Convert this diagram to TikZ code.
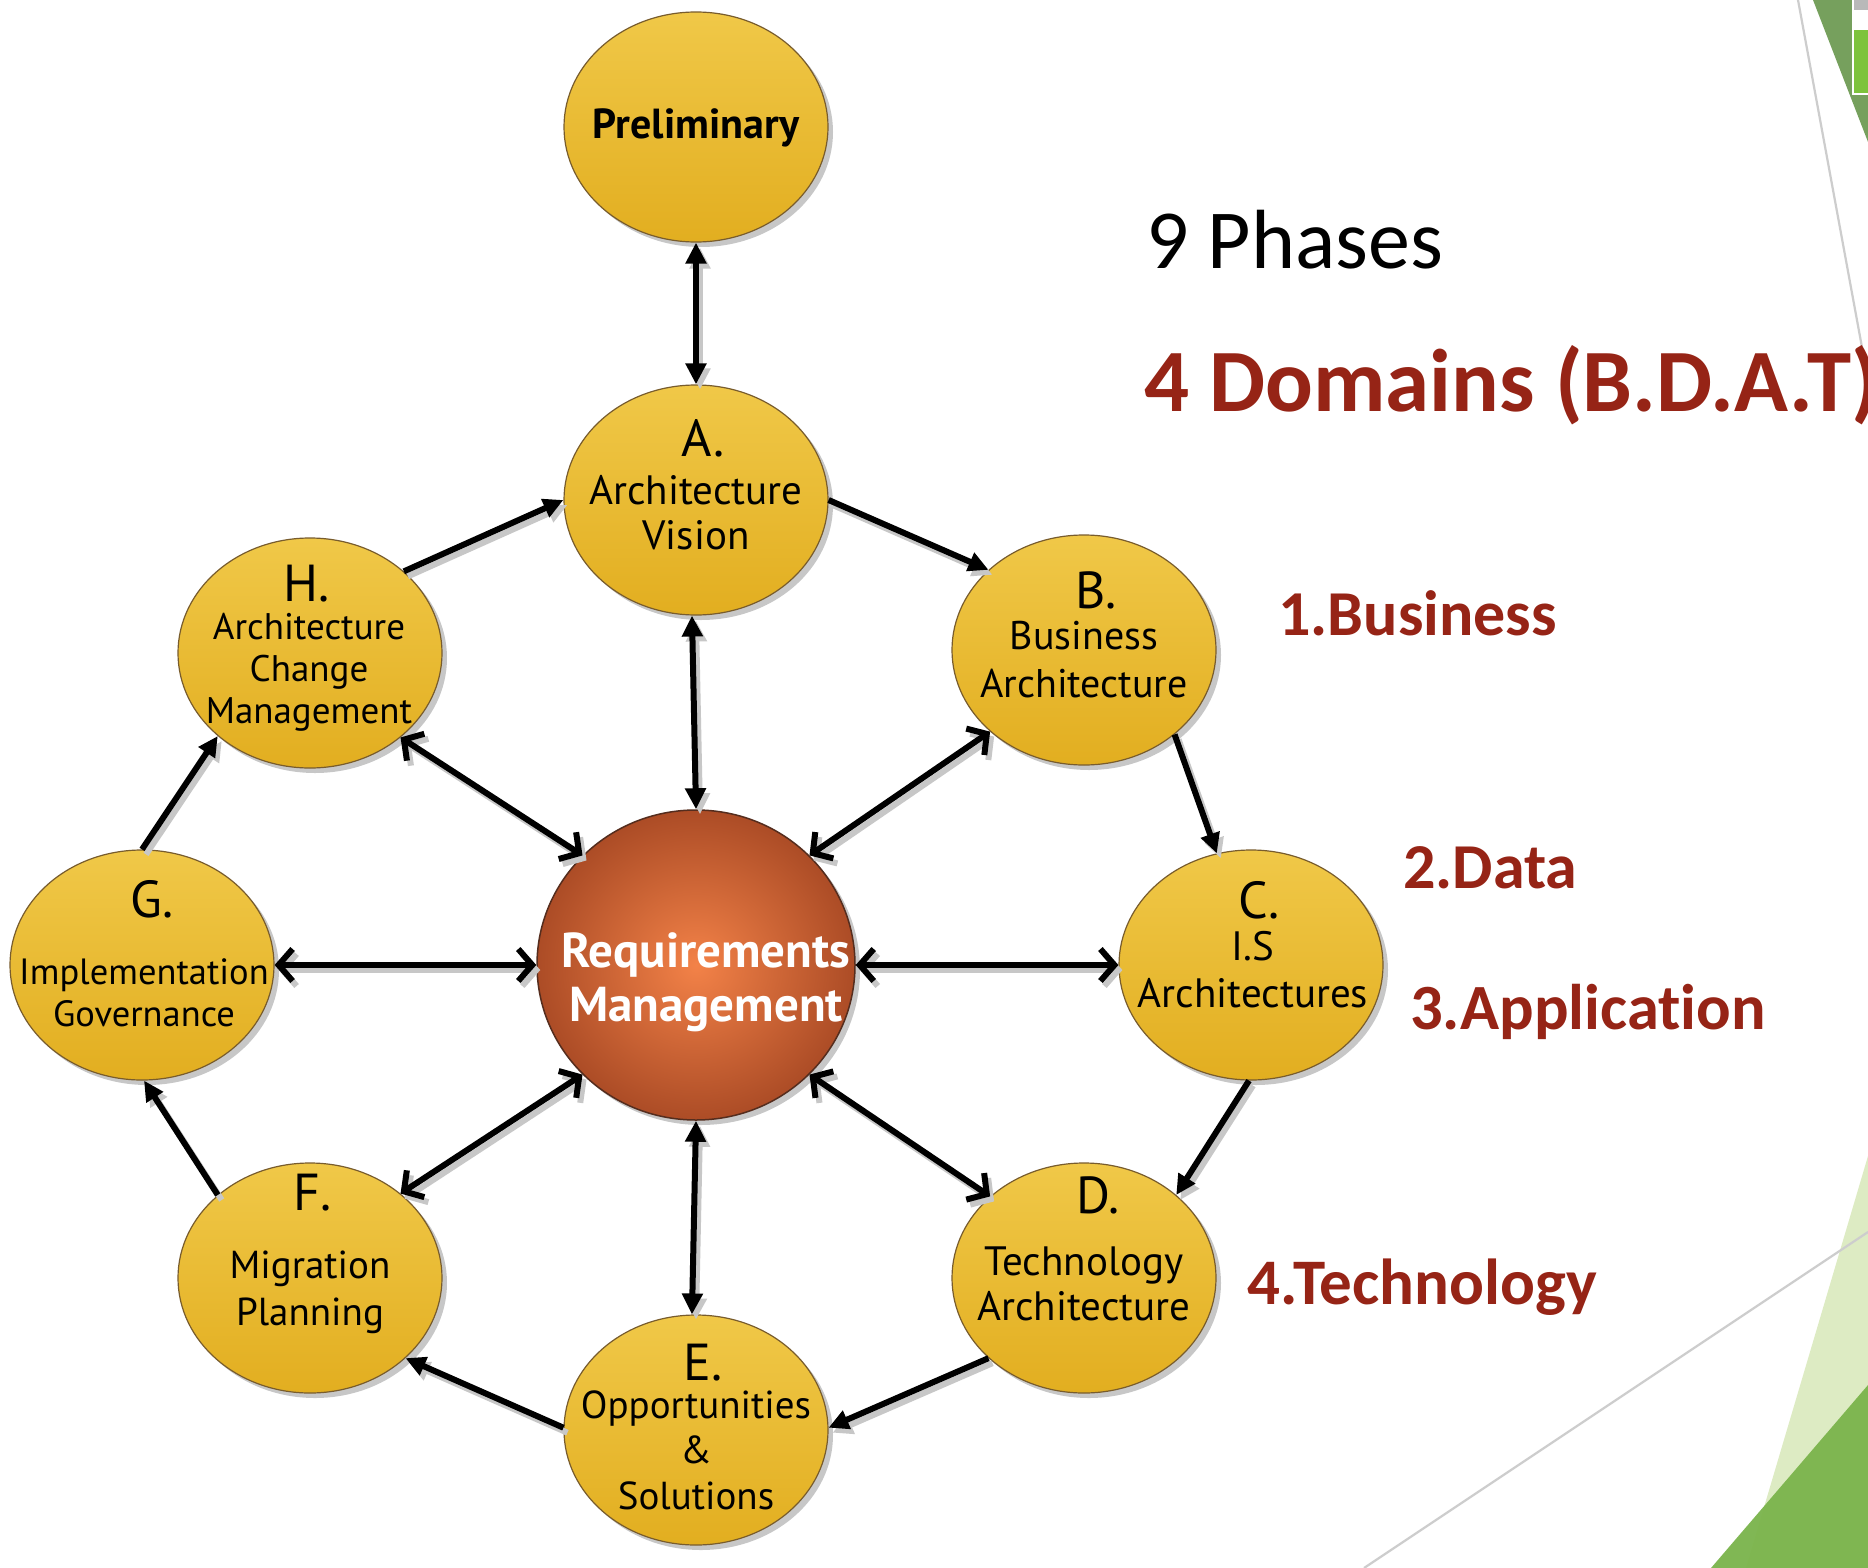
\documentclass[tikz,border=0pt]{standalone}
\usepackage{fontspec}
\setmainfont{PT Sans}
\newfontfamily\carl[Ligatures=CommonOff]{Carlito}
\usetikzlibrary{shapes.geometric,arrows.meta,shadows}
\definecolor{ylTop}{RGB}{240,200,72}
\definecolor{ylBot}{RGB}{226,174,32}
\definecolor{ylLine}{RGB}{120,92,45}
\definecolor{rmIn}{RGB}{243,130,72}
\definecolor{rmOut}{RGB}{172,76,38}
\definecolor{rmLine}{RGB}{85,45,30}
\definecolor{domred}{RGB}{150,36,22}
\definecolor{lgreen}{RGB}{221,235,195}
\definecolor{dgreen}{RGB}{122,180,75}
\definecolor{tgreen}{RGB}{118,160,93}
\definecolor{thgreen}{RGB}{125,195,60}
\definecolor{lgrey}{RGB}{205,205,205}
\tikzset{
  phase/.style={ellipse, draw=ylLine, line width=1.2pt, top color=ylTop, bottom color=ylBot,
    minimum width=264pt, minimum height=230pt, inner sep=0pt,
    drop shadow={shadow xshift=5pt, shadow yshift=-5pt, opacity=.22, fill=black}},
  reqm/.style={ellipse, draw=rmLine, line width=1.5pt, inner color=rmIn, outer color=rmOut,
    minimum width=318pt, minimum height=310pt, inner sep=0pt,
    drop shadow={shadow xshift=5pt, shadow yshift=-5pt, opacity=.22, fill=black}},
  lt/.style={font=\fontsize{52}{52}\selectfont, anchor=base, inner sep=0pt},
  bt/.style={font=\fontsize{#1}{#1}\selectfont, anchor=base, inner sep=0pt},
  shd/.style={preaction={draw=black!22, line width=6pt, transform canvas={shift={(4pt,-5pt)}}}},
  cyc/.style={shd, line width=6pt, -{Triangle[length=20pt,width=19pt]}},
  vsp/.style={shd, line width=6pt, {Triangle[length=21pt,width=20pt]}-{Triangle[length=21pt,width=20pt]}},
  dsp/.style={shd, line width=6pt, {Straight Barb[length=14pt,width=32pt]}-{Straight Barb[length=14pt,width=32pt]}},
  side/.style={anchor=base west, inner sep=0pt},
}
\begin{document}
\begin{tikzpicture}[x=1pt,y=-1pt]
\useasboundingbox (0,0) rectangle (1868,1568);
\fill[white] (0,0) rectangle (1868,1568);
% background decoration
\fill[lgreen] (1868,1156) -- (1746,1568) -- (1868,1568) -- cycle;
\fill[dgreen, opacity=.95] (1868,1385) -- (1711,1568) -- (1868,1568) -- cycle;
\draw[lgrey, line width=2.2pt] (1364,1568) -- (1868,1232);
\fill[tgreen] (1813,0) -- (1868,0) -- (1868,142) -- cycle;
\draw[lgrey, line width=2.2pt] (1798,0) -- (1868,380);
\fill[white] (1852,0) rectangle (1868,95);
\fill[gray!55] (1854,0) rectangle (1868,10);
\fill[thgreen] (1854,30) rectangle (1868,93);
% phases
\node[phase] (P) at (696,127) {};
\node[phase] (A) at (696,500) {};
\node[phase] (B) at (1084,650) {};
\node[phase] (C) at (1251,965) {};
\node[phase] (D) at (1084,1278) {};
\node[phase] (E) at (696,1430) {};
\node[phase] (F) at (310,1278) {};
\node[phase] (G) at (142,965) {};
\node[phase] (H) at (310,653) {};
\node[reqm] (R) at (696,965) {};
% labels
\node[bt=42, font=\fontsize{42}{42}\selectfont\bfseries] (Pt) at (696,139) {Preliminary};
\node[lt] (Al) at (703,456) {A.};
\node[bt=41] (At1) at (696,504) {Architecture};
\node[bt=41] (At2) at (696,549) {Vision};
\node[lt] (Bl) at (1096,608) {B.};
\node[bt=40] (Bt1) at (1084,649) {Business};
\node[bt=40] (Bt2) at (1084,697) {Architecture};
\node[lt] (Cl) at (1259,918) {C.};
\node[bt=41] (Ct1) at (1253,960) {I.S};
\node[bt=41] (Ct2) at (1253,1007) {Architectures};
\node[lt] (Dl) at (1098,1213) {D.};
\node[bt=41] (Dt1) at (1084,1275) {Technology};
\node[bt=41] (Dt2) at (1084,1320) {Architecture};
\node[lt] (El) at (703,1380) {E.};
\node[bt=39] (Et1) at (696,1418) {Opportunities};
\node[bt=39] (Et2) at (696,1463) {\&};
\node[bt=39] (Et3) at (696,1509) {Solutions};
\node[lt] (Fl) at (313,1210) {F.};
\node[bt=39] (Ft1) at (310,1278) {Migration};
\node[bt=39] (Ft2) at (310,1325) {Planning};
\node[lt] (Gl) at (152,917) {G.};
\node[bt=36.5] (Gt1) at (144,984) {Implementation};
\node[bt=36.5] (Gt2) at (144,1026) {Governance};
\node[lt] (Hl) at (307,601) {H.};
\node[bt=37] (Ht1) at (309,639) {Architecture};
\node[bt=37] (Ht2) at (309,681) {Change};
\node[bt=37] (Ht3) at (309,723) {Management};
\node[bt=49, font=\fontsize{49}{49}\selectfont\bfseries, text=white] (Rt1) at (706,967) {Requirements};
\node[bt=49, font=\fontsize{49}{49}\selectfont\bfseries, text=white] (Rt2) at (706,1021) {Management};
% side texts
\node[side, font=\carl\fontsize{84}{84}\selectfont] (ph) at (1146,268) {9 Phases};
\node[side, font=\carl\bfseries\fontsize{89}{89}\selectfont, text=domred] (dom) at (1144,411) {4 Domains (B.D.A.T)};
\node[side, font=\carl\bfseries\fontsize{64}{64}\selectfont, text=domred] (d1) at (1278,635) {1.Business};
\node[side, font=\carl\bfseries\fontsize{64}{64}\selectfont, text=domred] (d2) at (1403,888) {2.Data};
\node[side, font=\carl\bfseries\fontsize{64.5}{64}\selectfont, text=domred] (d3) at (1410,1029) {3.Application};
\node[side, font=\carl\bfseries\fontsize{65}{65}\selectfont, text=domred] (d4) at (1247,1304) {4.Technology};
% connectors
\draw[vsp] (P.south) -- (A.north);
\draw[cyc] (A.0) -- (B.140);
\draw[cyc] (B.-43) -- (C.107);
\draw[cyc] (C.-91) -- (D.42);
\draw[cyc] (D.-140) -- (E.1);
\draw[cyc] (E.179) -- (F.-40);
\draw[cyc] (F.138) -- (G.-89);
\draw[cyc] (G.90) -- (H.-138);
\draw[cyc] (H.41) -- (A.180);
\draw[vsp] (A.-92) -- (R.90);
\draw[dsp] (B.-139) -- (R.44);
\draw[dsp] (C.180) -- (R.0);
\draw[dsp] (D.139) -- (R.-44);
\draw[vsp] (E.92) -- (R.-90);
\draw[dsp] (F.43) -- (R.-136);
\draw[dsp] (G.0) -- (R.180);
\draw[dsp] (H.-43) -- (R.136);
\end{tikzpicture}
\end{document}
